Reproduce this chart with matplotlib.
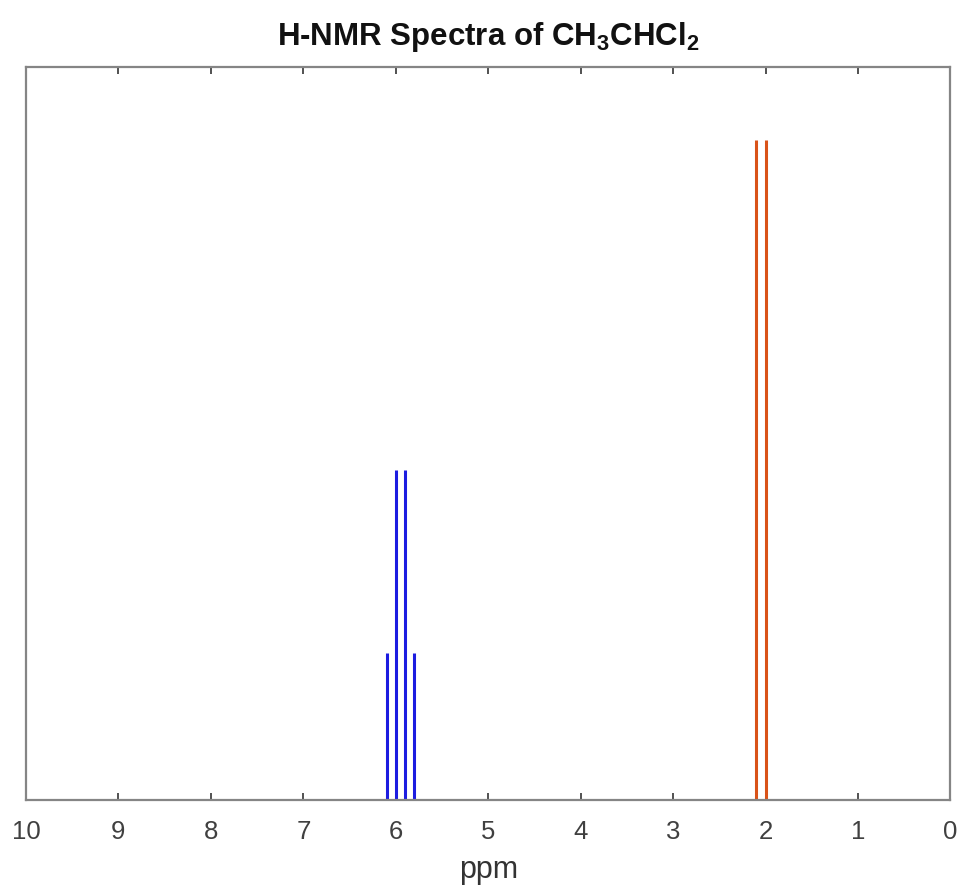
import matplotlib
matplotlib.use('Agg')
import matplotlib.pyplot as plt

plt.rcParams['font.family'] = ['Liberation Sans', 'DejaVu Sans']
plt.rcParams['mathtext.fontset'] = 'custom'
plt.rcParams['mathtext.rm'] = 'Liberation Sans'
plt.rcParams['mathtext.bf'] = 'Liberation Sans:bold'

# CH quartet (blue) and CH3 doublet (orange)
ch_ppm = [6.1, 6.0, 5.9, 5.8]
ch_int = [0.2, 0.45, 0.45, 0.2]
ch3_ppm = [2.1, 2.0]
ch3_int = [0.9, 0.9]
xticks = list(range(0, 11))

fig = plt.figure(figsize=(9.62, 8.9), dpi=100)
ax = fig.add_axes([0.027, 0.101, 0.961, 0.8237])

ax.vlines(ch_ppm, 0, ch_int, color='#1c1ce0', linewidth=2.2)
ax.vlines(ch3_ppm, 0, ch3_int, color='#D95319', linewidth=2.2)

ax.set_xlim(10, 0)
ax.set_ylim(0, 1)
ax.set_xticks(xticks)
ax.set_xticklabels([str(t) for t in xticks])
ax.set_yticks([])
ax.tick_params(axis='x', direction='in', length=5, width=1.2, color='#333333',
               top=True, labelsize=18.5, labelcolor='#404040', pad=14)
for s in ax.spines.values():
    s.set_color('#858585')
    s.set_linewidth(1.6)

ax.set_xlabel('ppm', fontsize=22, color='#333333', labelpad=8)
ax.set_title(r'H-NMR Spectra of CH$_\mathbf{3}$CHCl$_\mathbf{2}$', fontsize=22.5,
             fontweight='bold', color='#111111', pad=16)

fig.savefig('out.png', dpi=100)
